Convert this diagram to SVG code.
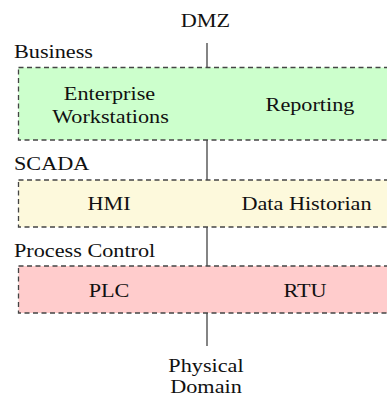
<svg xmlns="http://www.w3.org/2000/svg" width="387" height="397" viewBox="0 0 387 397">
<style>
text{font-family:"Liberation Serif","Times New Roman",serif;font-size:19.5px;fill:#111}
.m{text-anchor:middle}
.zone{stroke:#444;stroke-width:1.3;stroke-dasharray:5 3.5}
.link{stroke:#333;stroke-width:1.2;fill:none}
</style>
<rect width="387" height="397" fill="#fff"/>
<g id="connectors">
<line class="link" x1="207" y1="43" x2="207" y2="67.5"/>
<line class="link" x1="207" y1="140" x2="207" y2="180"/>
<line class="link" x1="207" y1="227" x2="207" y2="266"/>
<line class="link" x1="207" y1="313" x2="207" y2="346"/>
</g>
<g id="dmz"><text class="m" transform="translate(205.5,27) scale(1.14,1)">DMZ</text></g>
<g id="business">
<text transform="translate(14,57.5) scale(1.14,1)">Business</text>
<rect class="zone" x="18.5" y="67.5" width="390" height="72.5" fill="#ccffcc"/>
</g>
<g id="enterprise-workstations">
<text class="m" transform="translate(109.5,99.5) scale(1.14,1)">Enterprise</text>
<text class="m" transform="translate(110.5,123) scale(1.14,1)">Workstations</text>
</g>
<g id="reporting"><text class="m" transform="translate(310,111) scale(1.14,1)">Reporting</text></g>
<g id="scada">
<text transform="translate(14,170) scale(1.14,1)">SCADA</text>
<rect class="zone" x="18.5" y="180" width="390" height="47" fill="#fdf9dc"/>
</g>
<g id="hmi"><text class="m" transform="translate(109,210) scale(1.14,1)">HMI</text></g>
<g id="data-historian"><text class="m" transform="translate(306.5,210) scale(1.14,1)">Data Historian</text></g>
<g id="process-control">
<text transform="translate(14,256.5) scale(1.14,1)">Process Control</text>
<rect class="zone" x="18.5" y="266" width="390" height="47" fill="#ffcccc"/>
</g>
<g id="plc"><text class="m" transform="translate(109,296.5) scale(1.14,1)">PLC</text></g>
<g id="rtu"><text class="m" transform="translate(305,296.5) scale(1.14,1)">RTU</text></g>
<g id="physical-domain">
<text class="m" transform="translate(206,372) scale(1.14,1)">Physical</text>
<text class="m" transform="translate(206,392.5) scale(1.14,1)">Domain</text>
</g>
</svg>
